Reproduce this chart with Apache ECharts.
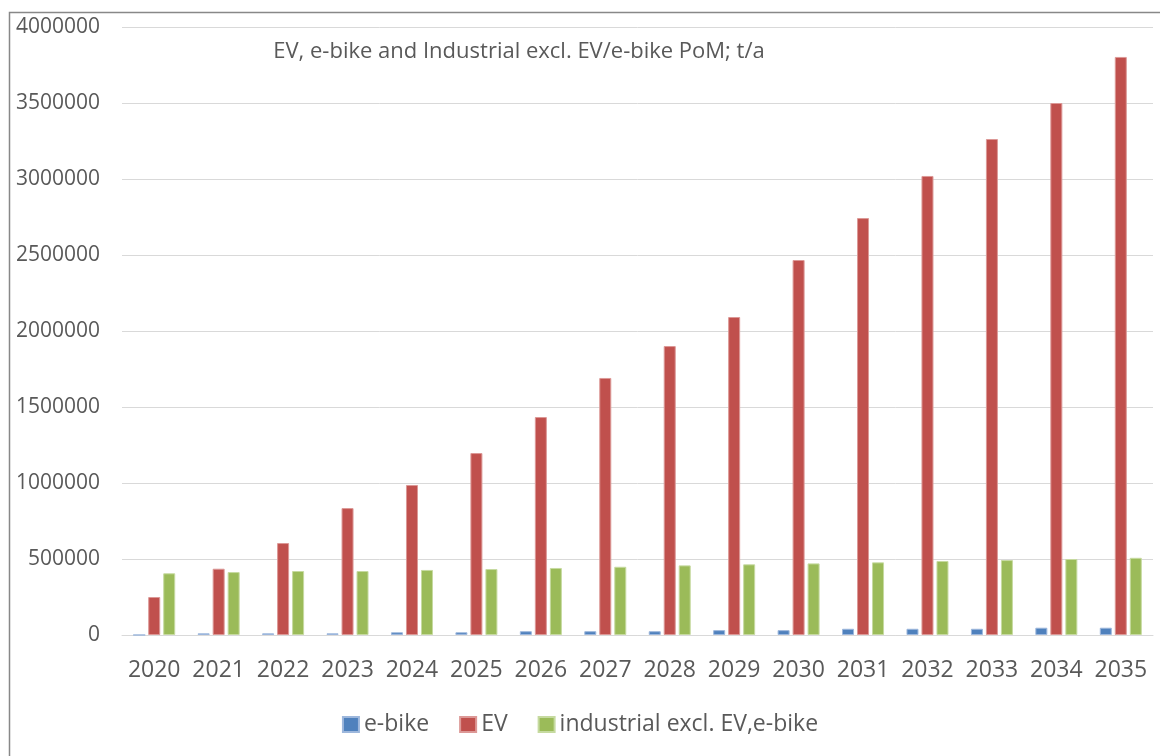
<!DOCTYPE html>
<html>
<head>
<meta charset="utf-8">
<script src="https://cdn.jsdelivr.net/npm/echarts@6/dist/echarts.min.js"></script>
<style>
html, body { margin: 0; padding: 0; background: #fff; }
#chart { width: 1160px; height: 756px; }
</style>
</head>
<body>
<div id="chart"></div>
<script>
var years = ['2020', '2021', '2022', '2023', '2024', '2025', '2026', '2027',
	'2028', '2029', '2030', '2031', '2032', '2033', '2034', '2035'];
var ebike = [0, 11000, 11000, 11000, 18000, 18000, 25000, 25000,
	25000, 32000, 32000, 41000, 41000, 41000, 48000, 48000];
var ev = [250000, 436000, 605000, 835000, 987000, 1197000, 1434000, 1691000,
	1901000, 2092000, 2467000, 2743000, 3020000, 3263000, 3500000, 3803000];
var industrial = [406000, 414000, 421000, 421000, 428000, 434000, 441000, 449000,
	458000, 465000, 471000, 478000, 487000, 493000, 500000, 508000];
var yTicks = [0, 500000, 1000000, 1500000, 2000000, 2500000, 3000000, 3500000, 4000000];

var textColor = '#595959';
var chart = echarts.init(document.getElementById('chart'));

function barSeries(name, data, color, edge){
	return {
		name: name,
		type: 'bar',
		data: data,
		barWidth: 12,
		barGap: '25%',
		itemStyle: { color: color, borderColor: edge, borderWidth: 1 }
	};
}

var option = {
	animation: false,
	backgroundColor: '#fff',
	textStyle: { fontFamily: 'Open Sans', color: textColor },
	title: {
		text: 'EV, e-bike and Industrial excl. EV/e-bike PoM; t/a',
		left: 514,
		top: 36,
		textAlign: 'center',
		textStyle: { fontSize: 22, fontWeight: 'normal', color: textColor, fontFamily: 'Open Sans' }
	},
	legend: {
		bottom: 15,
		left: 'center',
		itemWidth: 16,
		itemHeight: 15,
		itemGap: 30,
		icon: 'rect',
		textStyle: { fontSize: 23, color: textColor },
		data: ['e-bike', 'EV', 'industrial excl. EV,e-bike']
	},
	grid: { left: 122, right: 7, top: 27, bottom: 121 },
	xAxis: {
		type: 'category',
		data: years,
		axisLine: { lineStyle: { color: '#d9d9d9', width: 1 } },
		axisTick: { show: false },
		axisLabel: { fontSize: 23, color: textColor, margin: 24, interval: 0, hideOverlap: false }
	},
	yAxis: {
		type: 'value',
		min: yTicks[0],
		max: yTicks[yTicks.length - 1],
		interval: 500000,
		axisLine: { show: false },
		axisTick: { show: false },
		axisLabel: {
			fontSize: 21,
			color: textColor,
			margin: 22,
			formatter: function(v){ return String(v); }
		},
		splitLine: { lineStyle: { color: '#d9d9d9', width: 1 } }
	},
	graphic: [{
		type: 'rect',
		shape: { x: 9.5, y: 12.5, width: 1200, height: 800 },
		style: { fill: null, stroke: '#888', lineWidth: 1.5 },
		z: 100
	}],
	series: [
		barSeries('e-bike', ebike, '#4f81bd', '#9db7dc'),
		barSeries('EV', ev, '#c0504d', '#dc9896'),
		barSeries('industrial excl. EV,e-bike', industrial, '#9bbb59', '#c6daa0')
	]
};
chart.setOption(option);
</script>
</body>
</html>
